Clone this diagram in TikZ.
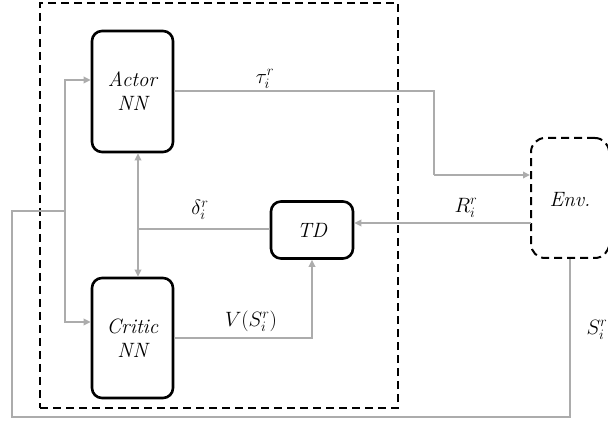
\documentclass[tikz,border=0pt]{standalone}
\usetikzlibrary{arrows.meta}
\definecolor{flow}{RGB}{172,172,172}
\begin{document}
\begin{tikzpicture}[x=1pt,y=-1pt,
  font=\fontsize{20.74}{24}\selectfont\itshape,
  block/.style={draw=black,line width=2.6pt,rounded corners=10pt,align=center,inner sep=0pt},
  envbox/.style={draw=black,line width=2pt,dash pattern=on 8pt off 5pt,rounded corners=14pt,inner sep=0pt},
  agent/.style={draw=black,line width=2pt,dash pattern=on 8pt off 5pt,inner sep=0pt},
  link/.style={draw=flow,line width=2pt},
  arr/.style={link,-{Triangle[length=7pt,width=6.5pt]}},
  darr/.style={link,{Triangle[length=7pt,width=6.5pt]}-{Triangle[length=7pt,width=6.5pt]}},
  lbl/.style={inner sep=0pt}]
\useasboundingbox (0,0) rectangle (608,422);

% agent boundary
\node[agent,minimum width=358pt,minimum height=405pt] (agentbox) at (219,205.5) {};

% blocks
\node[block,minimum width=81pt,minimum height=121pt] (actor) at (132.5,91.5) {Actor\\NN};
\node[block,minimum width=81pt,minimum height=120pt] (critic) at (132.5,338) {Critic\\NN};
\node[block,minimum width=82pt,minimum height=57pt] (td) at (312,230) {TD};
\node[envbox,minimum width=78pt,minimum height=120pt] (env) at (570,198) {};
\node[lbl] (envtext) at (570,200) {Env.};

% helper points
\coordinate (turn) at (434,175);
\coordinate (rin) at (531,223);
\coordinate (junc) at (138,229);
\coordinate (fb) at (65,211);
\coordinate (low) at (12,417);

% actor output to environment
\draw[link] (actor.east) -| (turn);
\draw[arr] (turn) -- (turn -| env.west);
% reward to TD
\draw[arr] (rin) -- (rin -| td.east);
% critic value to TD
\draw[arr] (critic.east) -| (td.south);
% TD error to actor and critic
\draw[link] (td.west |- junc) -- (junc);
\draw[darr] (actor.south -| junc) -- (critic.north -| junc);
% state feedback
\draw[link] (env.south) |- (low) |- (fb);
\draw[arr] (fb) |- ([yshift=11.5pt]actor.west);
\draw[arr] (fb) |- ([yshift=16pt]critic.west);

% labels
\node[lbl] (ltau) at (265,79) {$\tau_i^r$};
\node[lbl] (ldelta) at (200,210) {$\delta_i^r$};
\node[lbl] (lr) at (466,208) {$R_i^r$};
\node[lbl] (lv) at (251,321) {$V(S_i^r)$};
\node[lbl] (ls) at (597,330) {$S_i^r$};
\end{tikzpicture}
\end{document}
